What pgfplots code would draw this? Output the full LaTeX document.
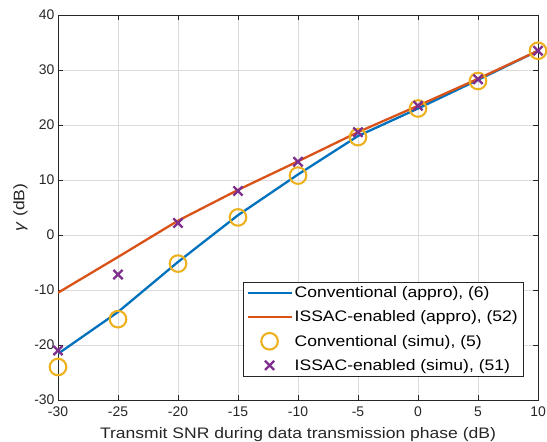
\documentclass[border=0pt]{standalone}
\usepackage{fontspec}
\setmainfont{Liberation Sans}
\newfontfamily\labfont[FakeStretch=1.15]{Liberation Sans}
\usepackage{pgfplots}
\pgfplotsset{compat=1.18}
\definecolor{mblue}{RGB}{0,114,189}
\definecolor{morange}{RGB}{217,83,25}
\definecolor{myellow}{RGB}{237,177,32}
\definecolor{mpurple}{RGB}{126,47,142}
\definecolor{axgray}{RGB}{38,38,38}
\pgfplotsset{
  linelegend/.style={legend image code/.code={\draw[##1] (0bp,0bp) -- (44bp,0bp);}},
  marklegend/.style={legend image code/.code={\draw[##1] plot coordinates {(22bp,0bp)};}},
}
\begin{document}
\begin{tikzpicture}[x=1bp,y=1bp]
\begin{axis}[
  at={(0,0)}, anchor=south west,
  width=480bp, height=385bp, scale only axis,
  xmin=-30, xmax=10, ymin=-30, ymax=40,
  xtick={-30,-25,...,10}, ytick={-30,-20,...,40},
  grid=major, major grid style={draw=black!14, line width=0.6bp},
  axis line style={draw=axgray, line width=0.6bp},
  tick style={draw=axgray, line width=0.6bp},
  tick align=inside, major tick length=5bp,
  /pgf/number format/assume math mode=true,
  ticklabel style={font=\fontsize{14}{16}\selectfont, text=axgray},
  xticklabel style={yshift=-3bp},
  xlabel={Transmit SNR during data transmission phase (dB)},
  ylabel={\textit{γ} (dB)},
  label style={font=\labfont\fontsize{15.3}{18}\selectfont, text=axgray},
  xlabel style={yshift=-4bp},
  legend style={at={(0.969,0.06)}, anchor=south east, draw=axgray, line width=0.6bp,
     font=\labfont\fontsize{15.3}{18}\selectfont, text=black, row sep=7.5bp,
     inner sep=3bp},
  legend cell align=left,
]
\addplot[mblue, line width=2.3bp, linelegend] coordinates {
 (-30,-21.6) (-25,-14) (-20,-4.9) (-15,3.6) (-10,11) (-5,18) (0,23) (5,28.2) (10,33.5)};
\addlegendentry{Conventional (appro), (6)}
\addplot[morange, line width=2.3bp, linelegend] coordinates {
 (-30,-10.5) (-25,-4) (-20,2.6) (-15,8.2) (-10,13.4) (-5,18.7) (0,23.5) (5,28.4) (10,33.5)};
\addlegendentry{ISSAC-enabled (appro), (52)}
\addplot[only marks, mark=o, mark size=8.3bp, draw=myellow, line width=2.1bp, marklegend] coordinates {
 (-30,-24) (-25,-15.3) (-20,-5.2) (-15,3.2) (-10,10.8) (-5,17.8) (0,23) (5,28) (10,33.5)};
\addlegendentry{Conventional (simu), (5)}
\addplot[only marks, mark=x, mark size=6.5bp, draw=mpurple, line width=2.3bp, marklegend] coordinates {
 (-30,-21) (-25,-7.2) (-20,2.2) (-15,8) (-10,13.3) (-5,18.7) (0,23.5) (5,28.3) (10,33.5)};
\addlegendentry{ISSAC-enabled (simu), (51)}
\end{axis}
\pgfresetboundingbox
\useasboundingbox (-58,-42) rectangle (489,400);
\end{tikzpicture}
\end{document}
